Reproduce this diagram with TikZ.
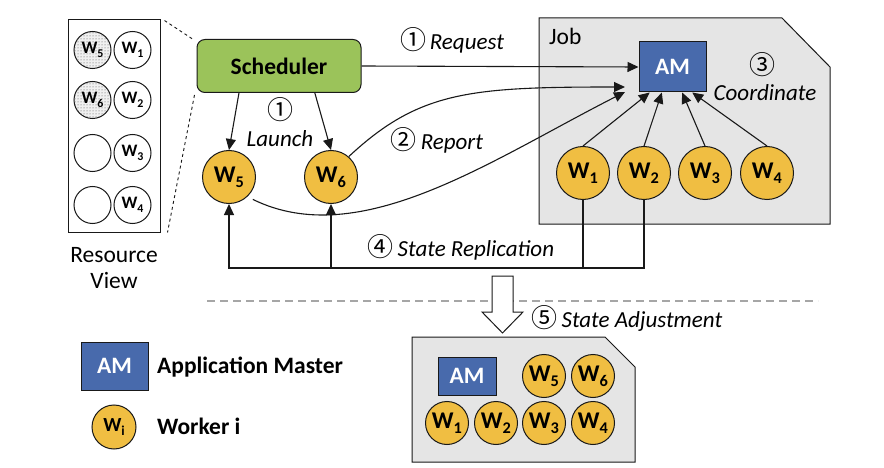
\documentclass[tikz,border=0pt]{standalone}
\usepackage{fontspec}
\setmainfont{Carlito}
\newfontfamily\symf{Noto Sans CJK SC}
\usetikzlibrary{arrows.meta,calc,patterns}
\definecolor{sgreen}{RGB}{155,195,90}
\definecolor{wyellow}{RGB}{240,190,66}
\definecolor{amblue}{RGB}{72,106,172}
\definecolor{jobgray}{RGB}{229,229,229}
\definecolor{ink}{RGB}{25,25,25}
\newcommand\wsub[1]{W\raisebox{-0.2em}{\scalebox{0.68}{#1}}}
\newcommand\cnum[1]{{\symf\fontsize{26}{26}\selectfont #1}}
\begin{document}
\begin{tikzpicture}[x=1pt,y=-1pt,
  line/.style={draw=ink, line width=1.1pt},
  arr/.style={line, -{Triangle[length=11pt,width=10pt]}},
  worker/.style={circle, draw=ink, line width=1pt, fill=wyellow, minimum size=53pt, inner sep=0pt, font=\fontsize{24}{24}\selectfont\bfseries},
  sworker/.style={worker, minimum size=43pt},
  rvw/.style={circle, draw=ink, line width=1pt, fill=white, minimum size=37pt, inner sep=0pt, font=\fontsize{17.5}{17.5}\selectfont\bfseries},
  rvd/.style={rvw, fill=black!6, postaction={pattern=dots, pattern color=black!70}},
  amst/.style={rectangle, draw=ink, line width=1pt, fill=amblue, text=white, font=\fontsize{23.5}{23.5}\selectfont\bfseries, inner sep=0pt},
  lab/.style={font=\fontsize{23}{23}\selectfont\itshape, inner sep=0pt, anchor=base},
  reg/.style={font=\fontsize{23.5}{23.5}\selectfont, inner sep=0pt},
  boldt/.style={font=\fontsize{23.5}{23.5}\selectfont\bfseries, inner sep=0pt, anchor=base west},
  jobst/.style={draw=ink, line width=1pt, fill=jobgray},
  sched/.style={rectangle, rounded corners=8pt, draw=ink, line width=1pt, fill=sgreen, minimum width=164pt, minimum height=53pt, font=\fontsize{23.5}{23.5}\selectfont\bfseries},
]
\useasboundingbox (0,0) rectangle (884,468);
\fill[white] (0,0) rectangle (884,468);

% ---------- Resource view ----------
\node[draw=ink, line width=1pt, minimum width=92pt, minimum height=212pt, inner sep=0pt] (rv) at (114,126) {};
\node[rvd] (r5) at (92.5,50) {\wsub{5}};
\node[rvw] (r1) at (132.5,50) {\wsub{1}};
\node[rvd] (r6) at (92.5,100) {\wsub{6}};
\node[rvw] (r2) at (132.5,100) {\wsub{2}};
\node[rvw] (re3) at (92.5,153) {};
\node[rvw] (r3) at (132.5,153) {\wsub{3}};
\node[rvw] (re4) at (92.5,205) {};
\node[rvw] (r4) at (132.5,205) {\wsub{4}};
\node[reg, anchor=base] (rvl1) at (114,262) {Resource};
\node[reg, anchor=base] (rvl2) at (114,288) {View};

% ---------- Job box ----------
\draw[jobst] (539,18) -- (782,18) -- (830,67) -- (830,224) -- (539,224) -- cycle;
\node[reg, anchor=base west] (job) at (549,45) {Job};

% ---------- Nodes ----------
\node[sched] (sched) at (279,66) {Scheduler};
\node[amst, minimum width=67pt, minimum height=50pt] (am) at (672.5,67) {AM};
\node[worker] (w5) at (229,177) {\wsub{5}};
\node[worker] (w6) at (331,177) {\wsub{6}};
\node[worker] (w1) at (583,173) {\wsub{1}};
\node[worker] (w2) at (644,173) {\wsub{2}};
\node[worker] (w3) at (705,173) {\wsub{3}};
\node[worker] (w4) at (767,173) {\wsub{4}};

% dashed zoom lines
\draw[ink, line width=0.9pt, dashed] ($(rv.north east)+(4,1)$) -- ($(sched.north west)+(-4,0)$);
\draw[ink, line width=0.9pt, dashed] ($(sched.south west)+(-2,2)$) -- ($(rv.south east)+(7,0)$);

% ---------- Connectors ----------
\draw[arr] (sched.east) -- (am.west);
\draw[arr] (sched.214.7) -- (w5.north);
\draw[arr] (sched.323.9) -- (w6.north);

\draw[arr] (w1.north) -- ($(am.south west)!0.164!(am.south east)$);
\draw[arr] (w2.north) -- ($(am.south west)!0.343!(am.south east)$);
\draw[arr] (w3.north) -- ($(am.south west)!0.642!(am.south east)$);
\draw[arr] (w4.north) -- ($(am.south west)!0.79!(am.south east)$);

\coordinate (rep1) at (625,87);
\coordinate (rep2) at (625,92);
\draw[arr] (w6.49) .. controls (419,91) and (470,87) .. (rep1);
\draw[arr, shorten <=6pt] (w5.-47) .. controls (360,252) and (491,160) .. (rep2);

\coordinate (ry) at (0,268);
\draw[arr] (w1.south) -- (w1.south |- ry) -| (w5.south);
\draw[arr] (w2.south) -- (w2.south |- ry) -| (w6.south);

% ---------- Labels ----------
\node[lab] (lreq) at (452,50) {\cnum{①}\,Request};
\node[inner sep=0pt] (llaunchn) at (280,110) {\cnum{①}};
\node[lab] (llaunch) at (280,147) {Launch};
\node[lab] (lrep) at (437,150) {\cnum{②}\,Report};
\node[inner sep=0pt] (lcoordn) at (762,65) {\cnum{③}};
\node[lab] (lcoord) at (765,101) {Coordinate};
\node[lab] (lstate) at (461,256) {\cnum{④}\,State Replication};
\node[lab] (ladj) at (627,327) {\cnum{⑤}\,State Adjustment};

% ---------- Separator and block arrow ----------
\draw[black!35, line width=1.3pt, dash pattern=on 8pt off 5pt] (207,301) -- (818,301);
\draw[line, line width=1pt, fill=white] (492,276) -- (513,276) -- (513,312) -- (523,312) -- (502.5,333) -- (482,312) -- (492,312) -- cycle;

% ---------- Adjusted job ----------
\draw[jobst] (412,337) -- (605,337) -- (635,367) -- (635,462) -- (412,462) -- cycle;
\node[amst, minimum width=58pt, minimum height=38pt] (am2) at (467,376) {AM};
\node[sworker] (v5) at (544,376) {\wsub{5}};
\node[sworker] (v6) at (593,376) {\wsub{6}};
\node[sworker] (v1) at (447,423) {\wsub{1}};
\node[sworker] (v2) at (496,423) {\wsub{2}};
\node[sworker] (v3) at (544,423) {\wsub{3}};
\node[sworker] (v4) at (593,423) {\wsub{4}};

% ---------- Legend ----------
\node[amst, minimum width=67pt, minimum height=48pt] (lam) at (114.5,366) {AM};
\node[boldt] (lamt) at (157,373) {Application Master};
\node[worker, minimum size=44pt, font=\fontsize{20}{20}\selectfont\bfseries] (lw) at (114,427) {\wsub{i}};
\node[boldt] (lwt) at (157,434) {Worker i};
\end{tikzpicture}
\end{document}
